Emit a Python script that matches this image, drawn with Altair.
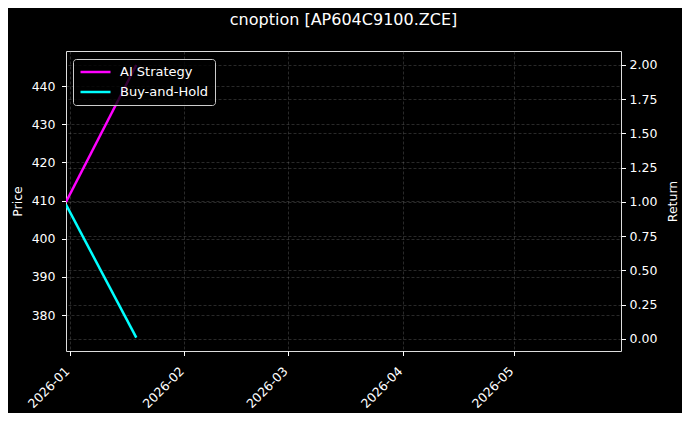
import altair as alt
import pandas as pd

# ---- data ----
dates = ["2025-12-31T00:00:00", "2026-01-19T00:00:00"]
ai_strategy = [1.00, 2.00]
buy_and_hold = [0.98, 0.01]
series_names = ["AI Strategy", "Buy-and-Hold"]
series_colors = ["#ff00ff", "#00ffff"]

price_domain = [370.6, 449.2]
price_ticks = [380, 390, 400, 410, 420, 430, 440]
return_domain = [-0.088, 2.102]
return_ticks = [0.0, 0.25, 0.5, 0.75, 1.0, 1.25, 1.5, 1.75, 2.0]

rows = []
for d, a, b in zip(dates, ai_strategy, buy_and_hold):
    rows.append({"date": d, "series": series_names[0], "value": a})
    rows.append({"date": d, "series": series_names[1], "value": b})
ret_df = pd.DataFrame(rows)
price_df = pd.DataFrame({"date": [dates[0], dates[0]], "price": price_domain})

x_scale = alt.Scale(domain=[alt.DateTime(year=2025, month=12, date=31),
                            alt.DateTime(year=2026, month=5, date=30)])

grid_kw = dict(grid=True, gridColor="#888888", gridOpacity=0.5, gridDash=[3, 2], gridWidth=0.6)

x_axis = alt.Axis(title=None, format="%Y-%m", tickCount={"interval": "month", "step": 1},
                  labelAngle=-45, labelAlign="right", labelBaseline="top",
                  labelFontSize=12.5, labelColor="white", tickColor="white", tickSize=4.5,
                  domain=False, labelPadding=9, labelOffset=-7, **grid_kw)

price_layer = alt.Chart(price_df).mark_point(opacity=0).encode(
    x=alt.X("date:T", scale=x_scale, axis=x_axis),
    y=alt.Y("price:Q", scale=alt.Scale(domain=price_domain, nice=False, zero=False),
            axis=alt.Axis(title="Price", values=price_ticks, orient="left",
                          labelFontSize=12.5, labelColor="white", titleColor="white",
                          titleFontSize=12.5, titleFontWeight="normal", titlePadding=7,
                          labelPadding=6.5,
                          tickColor="white", tickSize=4.5, domain=False, **grid_kw)),
)

return_layer = alt.Chart(ret_df).mark_line(strokeWidth=2.5, clip=True).encode(
    x=alt.X("date:T", scale=x_scale, axis=x_axis),
    y=alt.Y("value:Q", scale=alt.Scale(domain=return_domain, nice=False, zero=False),
            axis=alt.Axis(title="Return", values=return_ticks, format=".2f", orient="right",
                          labelFontSize=12.5, labelColor="white", titleColor="white",
                          titleFontSize=12.5, titleFontWeight="normal", titlePadding=10,
                          titleAngle=270, titleBaseline="top", labelPadding=3.5,
                          tickColor="white", tickSize=4.5, domain=False, **grid_kw)),
    color=alt.Color("series:N",
                    scale=alt.Scale(domain=series_names, range=series_colors),
                    legend=alt.Legend(title=None, orient="none", legendX=7, legendY=8,
                                      symbolType="stroke", symbolSize=900,
                                      symbolStrokeWidth=2.5, clipHeight=14,
                                      labelFontSize=13, labelColor="white",
                                      fillColor="rgba(0,0,0,0.8)", strokeColor="#cccccc",
                                      cornerRadius=3, padding=6, rowPadding=6,
                                      labelOffset=8)),
)

chart = alt.layer(price_layer, return_layer).resolve_scale(y="independent").properties(
    width=555, height=300,
    title=alt.TitleParams("cnoption [AP604C9100.ZCE]", fontSize=16, color="white",
                          fontWeight="normal", anchor="middle", offset=20),
    background="black",
    padding={"left": 58, "top": 43, "right": 61, "bottom": 62},
    autosize=alt.AutoSizeParams(type="none"),
).configure_view(stroke="white", strokeWidth=1.2, fill="black").configure(
    font="DejaVu Sans"
)

chart.save("out.html", embed_options={"renderer": "svg", "actions": False})
